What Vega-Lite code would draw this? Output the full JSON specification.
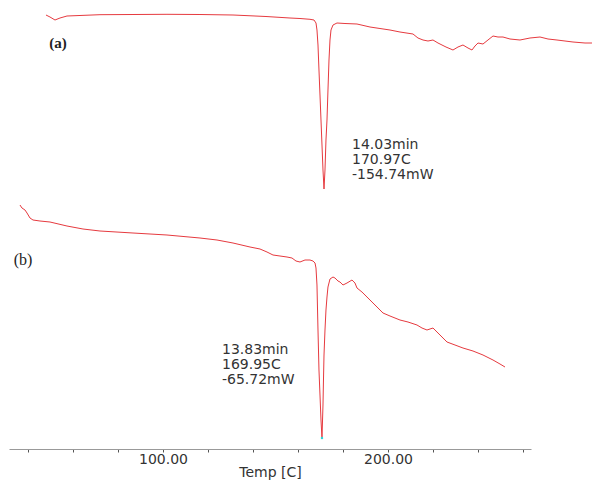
{
  "$schema": "https://vega.github.io/schema/vega-lite/v6.json",
  "autosize": {"type": "none"},
  "padding": {"left": 9, "top": 0, "right": 61, "bottom": 32},
  "width": 522,
  "height": 449,
  "background": "white",
  "config": {"view": {"stroke": null}},
  "datasets": {
    "curves": [
      {"curve": "a", "temp": 48.0, "signal": 434},
      {"curve": "a", "temp": 49.78, "signal": 432},
      {"curve": "a", "temp": 52.0, "signal": 429},
      {"curve": "a", "temp": 54.22, "signal": 431},
      {"curve": "a", "temp": 57.33, "signal": 433},
      {"curve": "a", "temp": 72.0, "signal": 434.3},
      {"curve": "a", "temp": 86.67, "signal": 434.5},
      {"curve": "a", "temp": 101.78, "signal": 434.7},
      {"curve": "a", "temp": 116.44, "signal": 434.5},
      {"curve": "a", "temp": 131.11, "signal": 434},
      {"curve": "a", "temp": 145.78, "signal": 432.5},
      {"curve": "a", "temp": 156.44, "signal": 431},
      {"curve": "a", "temp": 160.89, "signal": 430.5},
      {"curve": "a", "temp": 165.33, "signal": 429.7},
      {"curve": "a", "temp": 167.11, "signal": 429},
      {"curve": "a", "temp": 168.0, "signal": 426},
      {"curve": "a", "temp": 168.44, "signal": 419},
      {"curve": "a", "temp": 168.89, "signal": 404},
      {"curve": "a", "temp": 169.33, "signal": 379},
      {"curve": "a", "temp": 169.78, "signal": 354},
      {"curve": "a", "temp": 170.22, "signal": 329},
      {"curve": "a", "temp": 170.67, "signal": 304},
      {"curve": "a", "temp": 171.11, "signal": 279},
      {"curve": "a", "temp": 171.56, "signal": 260},
      {"curve": "a", "temp": 172.0, "signal": 279},
      {"curve": "a", "temp": 172.44, "signal": 309},
      {"curve": "a", "temp": 172.89, "signal": 329},
      {"curve": "a", "temp": 173.33, "signal": 359},
      {"curve": "a", "temp": 173.78, "signal": 389},
      {"curve": "a", "temp": 174.22, "signal": 409},
      {"curve": "a", "temp": 174.67, "signal": 419},
      {"curve": "a", "temp": 175.56, "signal": 424},
      {"curve": "a", "temp": 177.33, "signal": 426},
      {"curve": "a", "temp": 180.89, "signal": 425.5},
      {"curve": "a", "temp": 186.22, "signal": 425},
      {"curve": "a", "temp": 192.0, "signal": 422},
      {"curve": "a", "temp": 196.44, "signal": 420.5},
      {"curve": "a", "temp": 200.89, "signal": 419},
      {"curve": "a", "temp": 205.33, "signal": 417},
      {"curve": "a", "temp": 211.11, "signal": 415},
      {"curve": "a", "temp": 213.33, "signal": 411},
      {"curve": "a", "temp": 215.56, "signal": 409},
      {"curve": "a", "temp": 217.78, "signal": 408},
      {"curve": "a", "temp": 220.0, "signal": 409},
      {"curve": "a", "temp": 222.22, "signal": 406},
      {"curve": "a", "temp": 225.78, "signal": 402},
      {"curve": "a", "temp": 228.89, "signal": 399},
      {"curve": "a", "temp": 231.11, "signal": 402},
      {"curve": "a", "temp": 233.33, "signal": 404},
      {"curve": "a", "temp": 235.56, "signal": 401},
      {"curve": "a", "temp": 237.33, "signal": 399},
      {"curve": "a", "temp": 238.67, "signal": 403},
      {"curve": "a", "temp": 240.0, "signal": 406},
      {"curve": "a", "temp": 242.22, "signal": 405},
      {"curve": "a", "temp": 244.44, "signal": 409},
      {"curve": "a", "temp": 246.67, "signal": 413},
      {"curve": "a", "temp": 248.89, "signal": 412},
      {"curve": "a", "temp": 251.11, "signal": 412},
      {"curve": "a", "temp": 254.22, "signal": 410},
      {"curve": "a", "temp": 258.67, "signal": 409},
      {"curve": "a", "temp": 263.11, "signal": 411},
      {"curve": "a", "temp": 267.56, "signal": 412},
      {"curve": "a", "temp": 271.11, "signal": 410},
      {"curve": "a", "temp": 275.11, "signal": 409},
      {"curve": "a", "temp": 278.67, "signal": 408},
      {"curve": "a", "temp": 282.22, "signal": 407},
      {"curve": "a", "temp": 287.56, "signal": 406},
      {"curve": "a", "temp": 290.67, "signal": 406},
      {"curve": "b", "temp": 36.44, "signal": 244},
      {"curve": "b", "temp": 37.33, "signal": 241},
      {"curve": "b", "temp": 38.67, "signal": 239},
      {"curve": "b", "temp": 39.56, "signal": 236},
      {"curve": "b", "temp": 40.89, "signal": 231},
      {"curve": "b", "temp": 42.22, "signal": 229},
      {"curve": "b", "temp": 45.33, "signal": 228},
      {"curve": "b", "temp": 49.78, "signal": 227},
      {"curve": "b", "temp": 57.33, "signal": 223},
      {"curve": "b", "temp": 64.44, "signal": 220},
      {"curve": "b", "temp": 72.0, "signal": 218},
      {"curve": "b", "temp": 86.67, "signal": 216},
      {"curve": "b", "temp": 101.78, "signal": 214},
      {"curve": "b", "temp": 116.44, "signal": 211},
      {"curve": "b", "temp": 124.0, "signal": 209},
      {"curve": "b", "temp": 131.11, "signal": 206},
      {"curve": "b", "temp": 138.67, "signal": 202},
      {"curve": "b", "temp": 143.11, "signal": 200},
      {"curve": "b", "temp": 146.22, "signal": 197},
      {"curve": "b", "temp": 148.89, "signal": 194},
      {"curve": "b", "temp": 152.0, "signal": 193},
      {"curve": "b", "temp": 155.11, "signal": 192},
      {"curve": "b", "temp": 157.33, "signal": 191},
      {"curve": "b", "temp": 159.11, "signal": 188},
      {"curve": "b", "temp": 160.89, "signal": 187},
      {"curve": "b", "temp": 163.11, "signal": 189},
      {"curve": "b", "temp": 165.33, "signal": 189},
      {"curve": "b", "temp": 166.67, "signal": 188},
      {"curve": "b", "temp": 167.56, "signal": 186},
      {"curve": "b", "temp": 168.0, "signal": 181},
      {"curve": "b", "temp": 168.44, "signal": 164},
      {"curve": "b", "temp": 168.89, "signal": 119},
      {"curve": "b", "temp": 169.33, "signal": 79},
      {"curve": "b", "temp": 169.78, "signal": 54},
      {"curve": "b", "temp": 170.22, "signal": 29},
      {"curve": "b", "temp": 170.67, "signal": 11},
      {"curve": "b", "temp": 171.11, "signal": 44},
      {"curve": "b", "temp": 171.33, "signal": 69},
      {"curve": "b", "temp": 171.56, "signal": 94},
      {"curve": "b", "temp": 172.0, "signal": 119},
      {"curve": "b", "temp": 172.44, "signal": 139},
      {"curve": "b", "temp": 172.89, "signal": 152},
      {"curve": "b", "temp": 173.33, "signal": 162},
      {"curve": "b", "temp": 174.22, "signal": 170},
      {"curve": "b", "temp": 175.56, "signal": 172},
      {"curve": "b", "temp": 176.44, "signal": 171},
      {"curve": "b", "temp": 177.78, "signal": 168},
      {"curve": "b", "temp": 178.67, "signal": 167},
      {"curve": "b", "temp": 180.0, "signal": 164},
      {"curve": "b", "temp": 181.78, "signal": 166},
      {"curve": "b", "temp": 184.0, "signal": 169},
      {"curve": "b", "temp": 185.33, "signal": 166},
      {"curve": "b", "temp": 186.22, "signal": 161},
      {"curve": "b", "temp": 188.44, "signal": 157},
      {"curve": "b", "temp": 190.67, "signal": 152},
      {"curve": "b", "temp": 192.89, "signal": 147},
      {"curve": "b", "temp": 195.56, "signal": 141},
      {"curve": "b", "temp": 197.78, "signal": 136},
      {"curve": "b", "temp": 200.89, "signal": 133},
      {"curve": "b", "temp": 205.33, "signal": 129},
      {"curve": "b", "temp": 208.89, "signal": 127},
      {"curve": "b", "temp": 212.89, "signal": 124},
      {"curve": "b", "temp": 215.11, "signal": 121},
      {"curve": "b", "temp": 217.33, "signal": 119},
      {"curve": "b", "temp": 220.0, "signal": 121},
      {"curve": "b", "temp": 221.78, "signal": 117},
      {"curve": "b", "temp": 224.0, "signal": 112},
      {"curve": "b", "temp": 226.22, "signal": 107},
      {"curve": "b", "temp": 229.78, "signal": 104},
      {"curve": "b", "temp": 233.33, "signal": 101},
      {"curve": "b", "temp": 237.78, "signal": 98},
      {"curve": "b", "temp": 242.22, "signal": 94},
      {"curve": "b", "temp": 246.67, "signal": 89},
      {"curve": "b", "temp": 249.78, "signal": 85},
      {"curve": "b", "temp": 252.0, "signal": 82}
    ],
    "notes": [
      {"temp": 184.0, "signal": 304, "label": "14.03min"},
      {"temp": 184.0, "signal": 289, "label": "170.97C"},
      {"temp": 184.0, "signal": 274, "label": "-154.74mW"},
      {"temp": 126.22, "signal": 99, "label": "13.83min"},
      {"temp": 126.22, "signal": 84, "label": "169.95C"},
      {"temp": 126.22, "signal": 69, "label": "-65.72mW"}
    ],
    "tags": [
      {"temp": 53.33, "signal": 406, "label": "(a)"},
      {"temp": 37.78, "signal": 189, "label": "(b)"}
    ],
    "tips": [
      {"temp": 170.67, "signal": 11}
    ]
  },
  "layer": [
    {
      "data": {"name": "curves"},
      "mark": {"type": "line", "color": "#e63a3f", "strokeWidth": 1},
      "encoding": {
        "x": {
          "field": "temp", "type": "quantitative",
          "scale": {"domain": [31.56, 263.56], "nice": false, "zero": false},
          "axis": {
            "values": [40, 60, 80, 100, 120, 140, 160, 180, 200, 220, 240, 260],
            "labelExpr": "datum.value % 100 === 0 ? format(datum.value, '.2f') : ''",
            "tickSize": 3,
            "tickColor": "#555",
            "tickWidth": 1,
            "domainColor": "#999",
            "domainWidth": 1,
            "grid": false,
            "labelFont": "DejaVu Sans",
            "labelFontSize": 14,
            "labelColor": "#333",
            "labelPadding": 0,
            "labelFlush": false,
            "labelOverlap": false,
            "title": "Temp  [C]",
            "titleFont": "DejaVu Sans",
            "titleFontSize": 14,
            "titleFontWeight": "normal",
            "titleColor": "#333",
            "titlePadding": -1
          }
        },
        "y": {
          "field": "signal", "type": "quantitative",
          "scale": {"domain": [0, 449], "nice": false, "zero": false},
          "axis": null
        },
        "detail": {"field": "curve"}
      }
    },
    {
      "data": {"name": "tips"},
      "mark": {"type": "point", "filled": true, "color": "#33d6d6", "size": 6, "opacity": 1},
      "encoding": {
        "x": {"field": "temp", "type": "quantitative"},
        "y": {"field": "signal", "type": "quantitative"}
      }
    },
    {
      "data": {"name": "notes"},
      "mark": {"type": "text", "align": "left", "baseline": "middle", "font": "DejaVu Sans", "fontSize": 14, "color": "#333"},
      "encoding": {
        "x": {"field": "temp", "type": "quantitative"},
        "y": {"field": "signal", "type": "quantitative"},
        "text": {"field": "label"}
      }
    },
    {
      "data": {"name": "tags"},
      "transform": [{"filter": "datum.label === '(a)'"}],
      "mark": {"type": "text", "align": "center", "baseline": "middle", "font": "Liberation Serif", "fontSize": 15, "fontWeight": "bold", "color": "#222"},
      "encoding": {
        "x": {"field": "temp", "type": "quantitative"},
        "y": {"field": "signal", "type": "quantitative"},
        "text": {"field": "label"}
      }
    },
    {
      "data": {"name": "tags"},
      "transform": [{"filter": "datum.label === '(b)'"}],
      "mark": {"type": "text", "align": "center", "baseline": "middle", "font": "Liberation Serif", "fontSize": 16, "color": "#222"},
      "encoding": {
        "x": {"field": "temp", "type": "quantitative"},
        "y": {"field": "signal", "type": "quantitative"},
        "text": {"field": "label"}
      }
    }
  ]
}
